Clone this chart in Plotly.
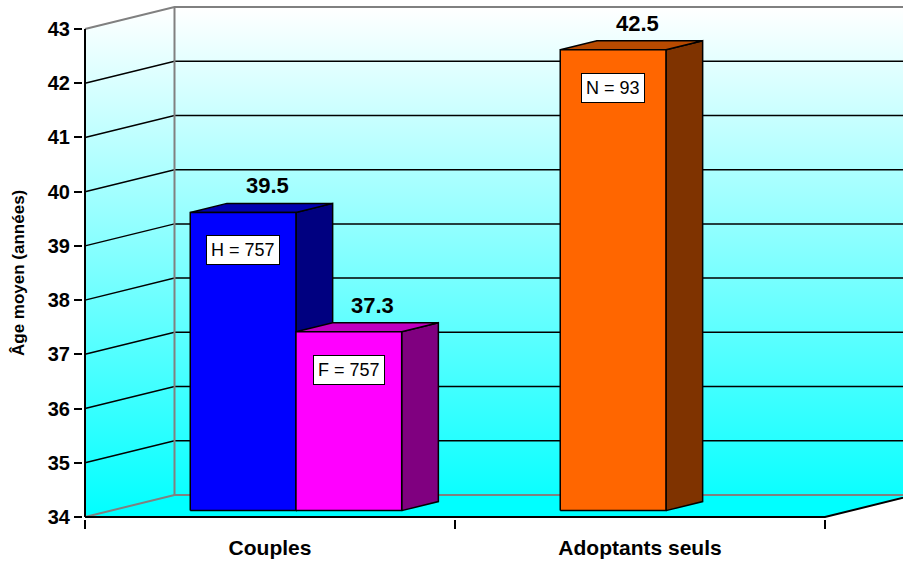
import plotly.graph_objects as go

# données
categories = ["Couples", "Adoptants seuls"]
age_serie1 = [39.5, 42.5]          # H (couples) / N (adoptants seuls)
age_serie2 = [37.3, None]          # F (couples)
effectif_serie1 = ["H = 757", "N = 93"]
effectif_serie2 = ["F = 757", None]
y_ticks = list(range(34, 44))

# couleurs (face avant, dessus, côté)
couleurs_serie1 = [("#0000FF", "#0000B0", "#000080"), ("#FF6600", "#B84A00", "#7F3300")]
couleurs_serie2 = [("#FF00FF", "#C000C0", "#800080"), None]

FONT = "Liberation Sans, Arial, sans-serif"

# géométrie pseudo-3D (en unités d'axes)
Y0, Y1 = y_ticks[0], y_ticks[-1]
PX_X, PX_Y = 370.0, 488.0 / 9
DX, DY = 89.5 / PX_X, 22.0 / PX_Y      # profondeur des parois
F1, F2 = 0.29, 0.70                     # avant / arrière des barres
W = 1 / 3.5                             # largeur d'une barre
XL, XR = -0.5, len(categories) - 0.5
XMAX = 2.0

fig = go.Figure()


def poly(xs, ys, **kw):
    fig.add_trace(go.Scatter(x=xs, y=ys, mode="lines", hoverinfo="skip",
                             showlegend=False, **kw))


grad = dict(type="vertical", colorscale=[[0, "#00FFFF"], [1, "#FFFFFF"]],
            start=Y0, stop=Y1 + DY)

# paroi gauche, paroi du fond, sol
poly([XL, XL, XL + DX, XL + DX, XL], [Y0, Y1, Y1 + DY, Y0 + DY, Y0],
     fill="toself", fillgradient=grad, line=dict(width=0))
poly([XL + DX, XL + DX, XMAX, XMAX, XL + DX], [Y0 + DY, Y1 + DY, Y1 + DY, Y0 + DY, Y0 + DY],
     fill="toself", fillgradient=grad, line=dict(width=0))
poly([XL, XR, XR + DX, XL + DX, XL], [Y0, Y0, Y0 + DY, Y0 + DY, Y0],
     fill="toself", fillcolor="#00FFFF", line=dict(width=0))

# quadrillage
gx, gy = [], []
for v in y_ticks[1:-1]:
    gx += [XL, XL + DX, XMAX, None]
    gy += [v, v + DY, v + DY, None]
poly(gx, gy, line=dict(color="black", width=1.5))

# arêtes des parois
poly([XL, XL + DX, XMAX, None, XL + DX, XL + DX, None, XL, XL + DX, XMAX],
     [Y1, Y1 + DY, Y1 + DY, None, Y0 + DY, Y1 + DY, None, Y0, Y0 + DY, Y0 + DY],
     line=dict(color="#808080", width=2))

# axe avant
poly([XL, XL, None, XL, XR, XR + DX], [Y1, Y0, None, Y0, Y0, Y0 + DY],
     line=dict(color="black", width=2))

# barres
ddx, ddy = (F2 - F1) * DX, (F2 - F1) * DY
annotations = []
bars = []
for c in range(len(categories)):
    for slot, (ages, effectifs, couleurs) in enumerate(
            [(age_serie1, effectif_serie1, couleurs_serie1),
             (age_serie2, effectif_serie2, couleurs_serie2)]):
        if ages[c] is not None:
            bars.append((c, slot, ages[c], effectifs[c], couleurs[c]))

for c, slot, v, eff, (cf, ct, cs) in bars:
    x0 = c - W + slot * W + F1 * DX
    x1 = x0 + W
    yb = Y0 + F1 * DY
    yt = v + F1 * DY
    edge = dict(color="black", width=1.5)
    poly([x1, x1 + ddx, x1 + ddx, x1, x1], [yb, yb + ddy, yt + ddy, yt, yb],
         fill="toself", fillcolor=cs, line=edge)
    poly([x0, x1, x1 + ddx, x0 + ddx, x0], [yt, yt, yt + ddy, yt + ddy, yt],
         fill="toself", fillcolor=ct, line=edge)
    poly([x0, x1, x1, x0, x0], [yb, yb, yt, yt, yb],
         fill="toself", fillcolor=cf, line=edge)
    annotations.append(dict(x=x0 + W / 2 + 0.27 * DX, y=v + F2 * DY, xref="x", yref="y",
                            text=f"<b>{v:.1f}</b>", showarrow=False, yanchor="bottom",
                            yshift=3, font=dict(family=FONT, size=22, color="black")))
    annotations.append(dict(x=x0 + W / 2, y=yt, xref="x", yref="y", text=eff,
                            showarrow=False, yanchor="top", yshift=-23,
                            bgcolor="white", bordercolor="black", borderwidth=1,
                            borderpad=4, font=dict(family=FONT, size=18, color="black")))

annotations.append(dict(x=-65 / 820, y=(Y0 + Y1) / 2, xref="paper", yref="y",
                        text="<b>Âge moyen (années)</b>", textangle=-90, showarrow=False,
                        xanchor="center", yanchor="middle",
                        font=dict(family=FONT, size=17, color="black")))

plot_h = 519
fig.update_layout(
    width=903, height=563,
    margin=dict(l=83, r=0, t=0, b=563 - plot_h),
    paper_bgcolor="white", plot_bgcolor="white",
    showlegend=False,
    annotations=annotations,
    xaxis=dict(range=[XL - 2 / PX_X, XL - 2 / PX_X + 820 / PX_X],
               tickvals=list(range(len(categories))), ticktext=categories,
               ticks="", showgrid=False, zeroline=False, showline=False,
               ticklabelstandoff=14,
               tickfont=dict(family=FONT, size=21, color="black", weight="bold"),
               minor=dict(tickmode="array", tickvals=[XL + i for i in range(len(categories) + 1)],
                          ticks="outside", ticklen=9, tickwidth=2, tickcolor="black",
                          showgrid=False)),
    yaxis=dict(range=[Y0 - 2 / PX_Y, Y0 + 517 / PX_Y],
               tickvals=y_ticks, ticks="outside", ticklen=8, tickwidth=2,
               tickcolor="black", showgrid=False, zeroline=False, showline=False,
               tickfont=dict(family=FONT, size=20, color="black", weight="bold")),
)

fig.write_html("out.html", config={"displayModeBar": False},
               post_script="document.body.style.margin='0';")
